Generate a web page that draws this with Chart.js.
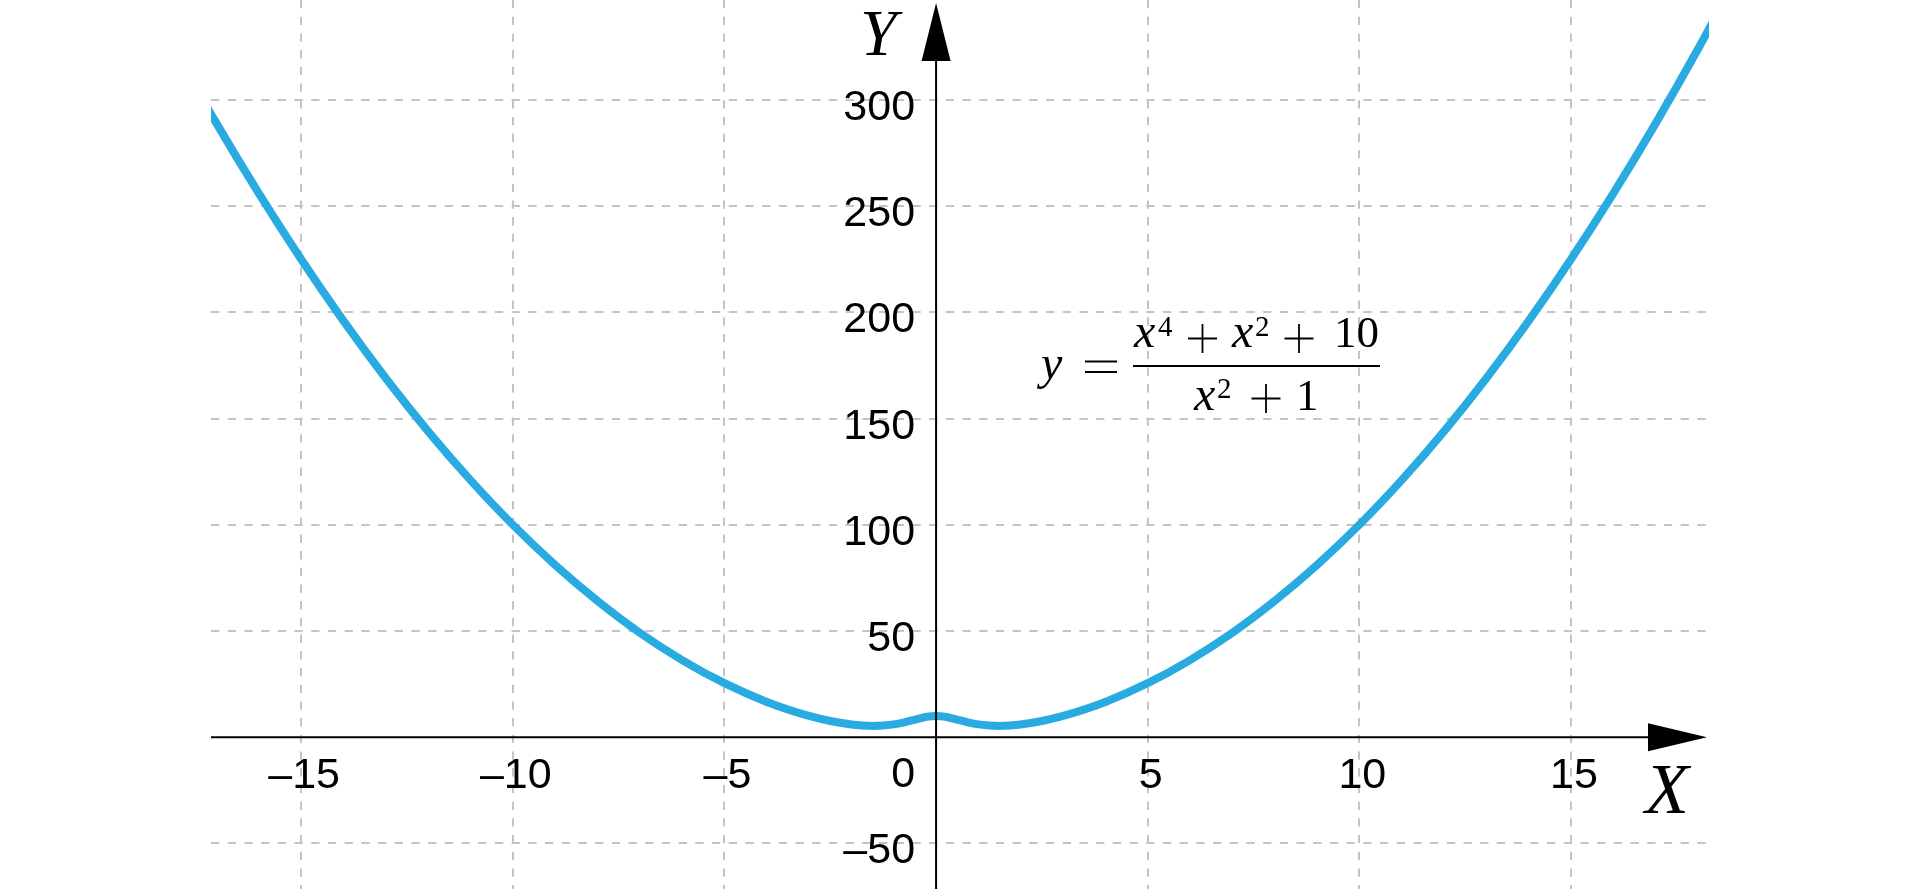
<!DOCTYPE html>
<html lang="en">
<head>
<meta charset="UTF-8">
<title>y = (x^4 + x^2 + 10) / (x^2 + 1)</title>
<script src="https://cdn.jsdelivr.net/npm/chart.js"></script>
<style>
  html, body { margin: 0; padding: 0; background: #fff; }
  #wrap { width: 1920px; height: 889px; }
</style>
</head>
<body>
<div id="wrap"><canvas id="graph"></canvas></div>
<script>
// curve values
const xs = [-19, -18, -17, -16, -15, -14, -13, -12, -11, -10, -9, -8, -7, -6, -5, -4, -3, -2.5, -2, -1.75, -1.5, -1.25, -1, -0.75, -0.5, -0.25,
            0, 0.25, 0.5, 0.75, 1, 1.25, 1.5, 1.75, 2, 2.5, 3, 4, 5, 6, 7, 8, 9, 10, 11, 12, 13, 14, 15, 16, 17, 18, 19];
const ys = [361, 324, 289, 256, 225, 196, 169, 144, 121, 100, 81.1, 64.2, 49.2, 36.3, 25.4, 16.6, 10, 7.6, 6, 5.5, 5.3, 5.5, 6, 7, 8.3, 9.5,
            10, 9.5, 8.3, 7, 6, 5.5, 5.3, 5.5, 6, 7.6, 10, 16.6, 25.4, 36.3, 49.2, 64.2, 81.1, 100, 121, 144, 169, 196, 225, 256, 289, 324, 361];

// axes
const xRange = [-17.13, 18.26];
const yRange = [-71.5, 347.1];
const xTicks = [-15, -10, -5, 5, 10, 15];
const yTicks = [300, 250, 200, 150, 100, 50, -50];
const gridX = [-15, -10, -5, 0, 5, 10, 15];
const gridY = [-50, 0, 50, 100, 150, 200, 250, 300];

const fmt = v => (v < 0 ? '\u2013' + Math.abs(v) : String(v));

const decor = {
  id: 'decor',
  afterDatasetsDraw(chart) {
    const {ctx, chartArea: a, scales: {x, y}} = chart;
    const x0 = x.getPixelForValue(0);
    const y0 = y.getPixelForValue(0);
    ctx.save();
    ctx.strokeStyle = '#000';
    ctx.fillStyle = '#000';

    // axis lines
    ctx.lineWidth = 2;
    ctx.beginPath();
    ctx.moveTo(a.left, y0); ctx.lineTo(a.right - 40, y0);
    ctx.moveTo(x0, a.bottom); ctx.lineTo(x0, a.top + 40);
    ctx.stroke();

    // arrow heads
    ctx.beginPath();
    ctx.moveTo(a.right - 2, y0); ctx.lineTo(a.right - 61, y0 - 14); ctx.lineTo(a.right - 61, y0 + 14); ctx.closePath();
    ctx.moveTo(x0, a.top + 3); ctx.lineTo(x0 - 14.5, a.top + 61); ctx.lineTo(x0 + 14.5, a.top + 61); ctx.closePath();
    ctx.fill();

    // tick labels
    ctx.font = '43px "Liberation Sans", Arial, sans-serif';
    ctx.textBaseline = 'alphabetic';
    ctx.textAlign = 'center';
    xTicks.forEach(v => ctx.fillText(fmt(v), x.getPixelForValue(v) + 3, y0 + 51));
    ctx.textAlign = 'right';
    yTicks.forEach(v => ctx.fillText(fmt(v), x0 - 21, y.getPixelForValue(v) + 20));
    ctx.fillText('0', x0 - 21, y0 + 50);

    // axis names
    ctx.textAlign = 'left';
    ctx.font = 'italic 66px "Liberation Serif", serif';
    ctx.fillText('Y', x0 - 76, a.top + 55);
    ctx.font = 'italic 72px "Liberation Serif", serif';
    ctx.fillText('X', 1645, y0 + 76);

    // formula
    const it = 'italic 48px "Liberation Serif", serif';
    const rm = '45px "Liberation Serif", serif';
    const sup = '29px "Liberation Serif", serif';
    const put = (t, f, px, py) => { ctx.font = f; ctx.fillText(t, px, py); };
    const plus = (cx, cy, w) => {
      ctx.beginPath();
      ctx.moveTo(cx - w / 2, cy); ctx.lineTo(cx + w / 2, cy);
      ctx.moveTo(cx, cy - w / 2); ctx.lineTo(cx, cy + w / 2);
      ctx.stroke();
    };
    ctx.lineWidth = 1.8;
    put('y', it, 1041, 379);
    ctx.beginPath();
    ctx.moveTo(1085, 361.5); ctx.lineTo(1117, 361.5);
    ctx.moveTo(1085, 372); ctx.lineTo(1117, 372);
    ctx.stroke();
    ctx.beginPath();
    ctx.moveTo(1133, 366); ctx.lineTo(1380, 366);
    ctx.stroke();
    put('x', it, 1134, 347);
    put('4', sup, 1158, 336);
    plus(1202.5, 338.5, 29);
    put('x', it, 1232, 347);
    put('2', sup, 1255, 336);
    plus(1299, 338.5, 29);
    put('10', rm, 1334, 347);
    put('x', it, 1194, 410);
    put('2', sup, 1217, 398);
    plus(1266, 398.5, 29);
    put('1', rm, 1296, 410);
    ctx.restore();
  }
};

new Chart(document.getElementById('graph'), {
  type: 'line',
  data: {
    datasets: [{
      data: xs.map((v, i) => ({x: v, y: ys[i]})),
      borderColor: '#29abe2',
      borderWidth: 8,
      pointRadius: 0,
      cubicInterpolationMode: 'monotone',
      fill: false,
      clip: 0
    }]
  },
  options: {
    responsive: true,
    maintainAspectRatio: false,
    animation: false,
    devicePixelRatio: 1,
    layout: { padding: { left: 211, right: 211, top: 0, bottom: 0 } },
    plugins: { legend: { display: false }, tooltip: { enabled: false } },
    scales: {
      x: {
        type: 'linear',
        min: xRange[0],
        max: xRange[1],
        afterBuildTicks: s => { s.ticks = gridX.map(v => ({value: v})); },
        afterFit: s => { s.height = 0; },
        ticks: { display: false },
        grid: {
          color: c => (c.tick && c.tick.value === 0 ? 'rgba(0,0,0,0)' : '#c4c4c4'),
          lineWidth: 2,
          drawTicks: false
        },
        border: { display: false, dash: [8.3, 8.4] }
      },
      y: {
        type: 'linear',
        min: yRange[0],
        max: yRange[1],
        afterBuildTicks: s => { s.ticks = gridY.map(v => ({value: v})); },
        afterFit: s => { s.width = 0; },
        ticks: { display: false },
        grid: {
          color: c => (c.tick && c.tick.value === 0 ? 'rgba(0,0,0,0)' : '#c4c4c4'),
          lineWidth: 2,
          drawTicks: false
        },
        border: { display: false, dash: [8.3, 8.4] }
      }
    }
  },
  plugins: [decor]
});
</script>
</body>
</html>
